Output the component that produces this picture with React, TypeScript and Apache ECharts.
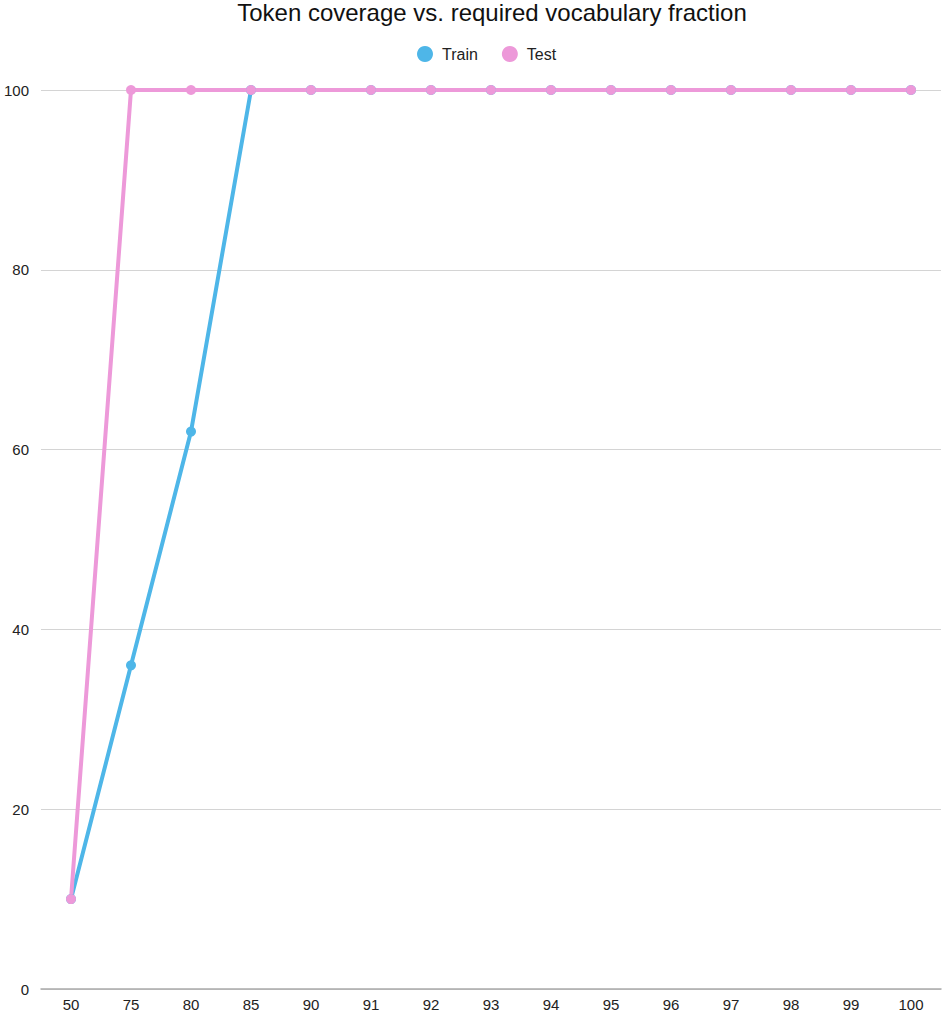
import React, { useEffect, useRef } from "react";
import * as echarts from "echarts";

const categories = ["50", "75", "80", "85", "90", "91", "92", "93", "94", "95", "96", "97", "98", "99", "100"];
const trainValues = [10, 36, 62, 100, 100, 100, 100, 100, 100, 100, 100, 100, 100, 100, 100];
const testValues = [10, 100, 100, 100, 100, 100, 100, 100, 100, 100, 100, 100, 100, 100, 100];
const yTicks = { min: 0, max: 100, interval: 20 };

const FONT = "'Liberation Sans', Arial, sans-serif";

export default function App() {
  const ref = useRef<HTMLDivElement>(null);
  useEffect(() => {
    if (!ref.current) return;
    const chart = echarts.init(ref.current, undefined, { renderer: "svg" });
    chart.setOption({
      animation: false,
      textStyle: { fontFamily: FONT },
      title: {
        text: "Token coverage vs. required vocabulary fraction",
        left: 487,
        textAlign: "center",
        top: -5,
        textStyle: { fontSize: 24, fontWeight: "normal", color: "#111", fontFamily: FONT },
      },
      legend: {
        left: 412,
        top: 41,
        icon: "circle",
        itemWidth: 24,
        itemHeight: 16,
        itemGap: 24,
        textStyle: { fontSize: 16, color: "#222", fontFamily: FONT },
        data: ["Train", "Test"],
      },
      grid: { left: 41, right: 3, top: 90, bottom: 22, containLabel: false },
      xAxis: {
        type: "category",
        data: categories,
        boundaryGap: true,
        axisLine: { lineStyle: { color: "#aaa", width: 1.5 } },
        axisTick: { show: false },
        axisLabel: { fontSize: 15, color: "#222", margin: 8, fontFamily: FONT },
      },
      yAxis: {
        type: "value",
        min: yTicks.min,
        max: yTicks.max,
        interval: yTicks.interval,
        axisLine: { show: false },
        axisTick: { show: false },
        axisLabel: { fontSize: 15, color: "#222", margin: 12, fontFamily: FONT },
        splitLine: { lineStyle: { color: "#d4d4d4", width: 1 } },
      },
      series: [
        {
          name: "Train",
          type: "line",
          data: trainValues,
          symbol: "circle",
          symbolSize: 10,
          itemStyle: { color: "#4eb6e8" },
          lineStyle: { color: "#4eb6e8", width: 4 },
        },
        {
          name: "Test",
          type: "line",
          data: testValues,
          symbol: "circle",
          symbolSize: 10,
          itemStyle: { color: "#ed99d9" },
          lineStyle: { color: "#ed99d9", width: 4 },
        },
      ],
    });
    return () => chart.dispose();
  }, []);
  return <div ref={ref} style={{ width: 944, height: 1012, position: "absolute", left: 0, top: 0 }} />;
}
